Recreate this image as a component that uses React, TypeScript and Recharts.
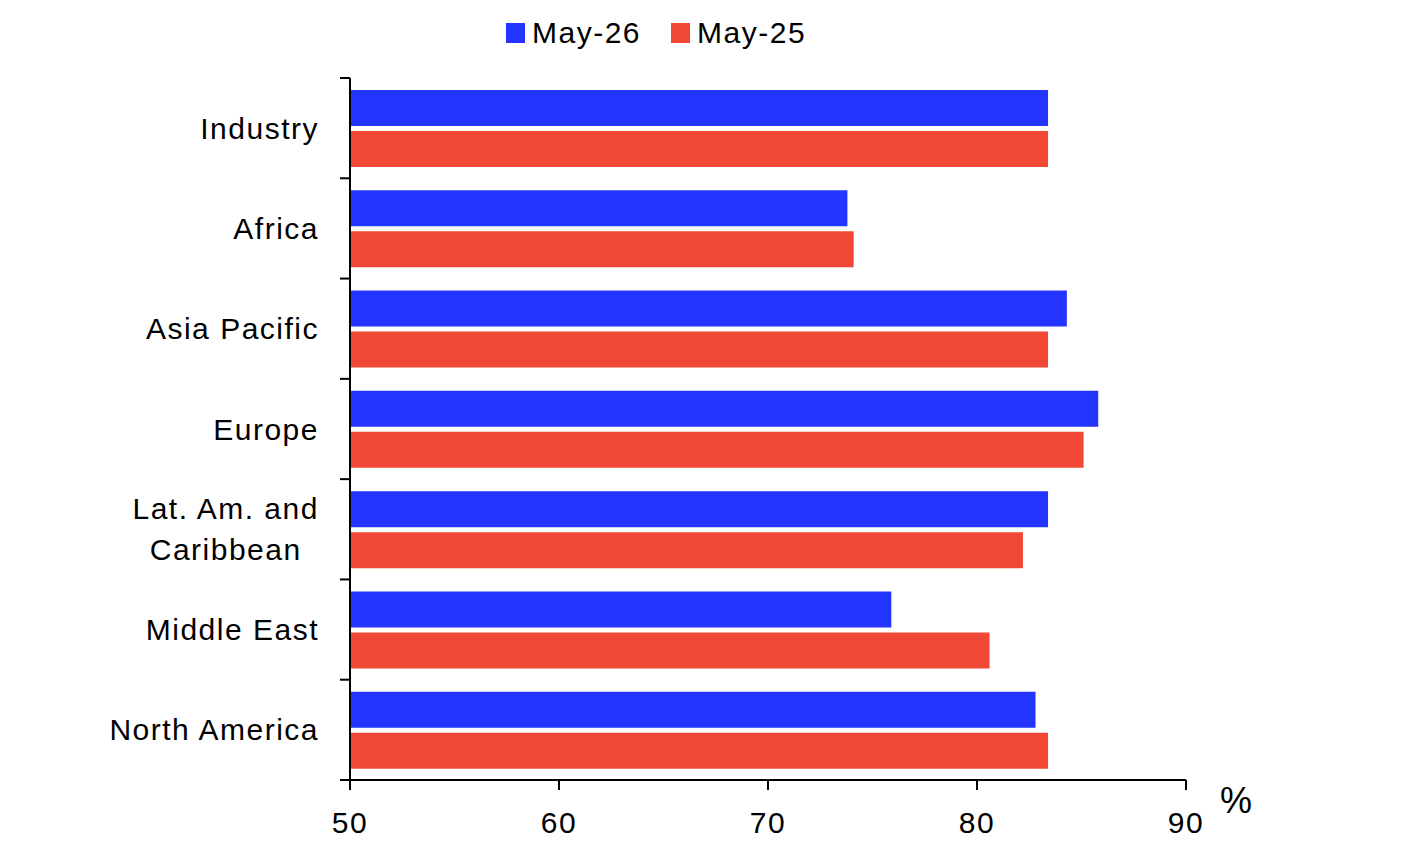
import React from 'react';
import { BarChart, Bar, XAxis, YAxis, Legend, Label } from 'recharts';

// regions, top to bottom
const categories = [
  'Industry',
  'Africa',
  'Asia Pacific',
  'Europe',
  'Lat. Am. and\nCaribbean',
  'Middle East',
  'North America',
];
const may26 = [83.4, 73.8, 84.3, 85.8, 83.4, 75.9, 82.8];
const may25 = [83.4, 74.1, 83.4, 85.1, 82.2, 80.6, 83.4];
const xTicks = [50, 60, 70, 80, 90];

const BLUE = '#2335FF';
const RED = '#F04835';
const FONT = '"Liberation Sans", Arial, sans-serif';
const FONT_SIZE = 30;
const SPACING = 1.5;

const series = [
  { key: 'may26', name: 'May-26', color: BLUE },
  { key: 'may25', name: 'May-25', color: RED },
];

const data = categories.map((name, i) => ({ name, may26: may26[i], may25: may25[i] }));

let ctx: CanvasRenderingContext2D | null = null;
const measure = (s: string) => {
  if (!ctx) ctx = document.createElement('canvas').getContext('2d');
  if (!ctx) return s.length * FONT_SIZE * 0.5;
  ctx.font = `${FONT_SIZE}px ${FONT}`;
  return ctx.measureText(s).width + SPACING * (s.length - 1);
};

const TICK_MARGIN = 31;
const TICK_LEN = 10;
const LINE_H = 41;

const CategoryTick = (props: any) => {
  const { x, y, payload, index, visibleTicksCount } = props;
  const lines = String(payload.value).split('\n');
  const half = payload.offset ?? 0;
  const axisX = x + TICK_MARGIN;
  const maxW = Math.max(...lines.map(measure));
  const multi = lines.length > 1;
  return (
    <g>
      <line x1={axisX - TICK_LEN} x2={axisX} y1={y - half} y2={y - half} stroke="#000" strokeWidth={2} />
      {index === visibleTicksCount - 1 && (
        <line x1={axisX - TICK_LEN} x2={axisX} y1={y + half} y2={y + half} stroke="#000" strokeWidth={2} />
      )}
      {lines.map((ln, i) => (
        <text
          key={i}
          x={multi ? x - maxW / 2 : x}
          y={y + (i - (lines.length - 1) / 2) * LINE_H}
          textAnchor={multi ? 'middle' : 'end'}
          dominantBaseline="central"
          fontSize={FONT_SIZE}
          fontFamily={FONT}
          letterSpacing={SPACING}
          fill="#000"
        >
          {ln}
        </text>
      ))}
    </g>
  );
};

const LegendContent = () => (
  <div style={{ display: 'flex', alignItems: 'center', fontFamily: FONT, fontSize: FONT_SIZE, letterSpacing: SPACING }}>
    {series.map((s, i) => (
      <div key={s.key} style={{ display: 'flex', alignItems: 'center', marginLeft: i ? 30 : 0 }}>
        <span style={{ width: 19, height: 20, background: s.color, display: 'inline-block', marginRight: 7 }} />
        <span>{s.name}</span>
      </div>
    ))}
  </div>
);

export default function App() {
  return (
    <div style={{ position: 'absolute', left: 0, top: 0, background: '#fff' }}>
      <BarChart
        width={1410}
        height={852}
        data={data}
        layout="vertical"
        margin={{ top: 78, right: 224, bottom: 10, left: 10 }}
        barSize={36}
        barGap={5}
      >
        <XAxis
          type="number"
          domain={[50, 90]}
          ticks={xTicks}
          height={62}
          tickSize={10}
          tickMargin={22}
          axisLine={{ stroke: '#000', strokeWidth: 2 }}
          tickLine={{ stroke: '#000', strokeWidth: 2 }}
          tick={{ fill: '#000', fontSize: FONT_SIZE, fontFamily: FONT, letterSpacing: SPACING }}
        >
          <Label
            value="%"
            position="right"
            offset={34}
            dy={-11}
            style={{ fill: '#000', fontSize: 36, fontFamily: FONT }}
          />
        </XAxis>
        <YAxis
          type="category"
          dataKey="name"
          width={340}
          interval={0}
          tickSize={0}
          tickMargin={TICK_MARGIN}
          tickLine={false}
          axisLine={{ stroke: '#000', strokeWidth: 2 }}
          tick={<CategoryTick />}
        />
        <Legend
          verticalAlign="top"
          content={<LegendContent />}
          wrapperStyle={{ position: 'absolute', top: 16, left: 506, width: 'auto', height: 0, overflow: 'visible' }}
        />
        {series.map((s) => (
          <Bar key={s.key} dataKey={s.key} name={s.name} fill={s.color} isAnimationActive={false} />
        ))}
      </BarChart>
    </div>
  );
}
